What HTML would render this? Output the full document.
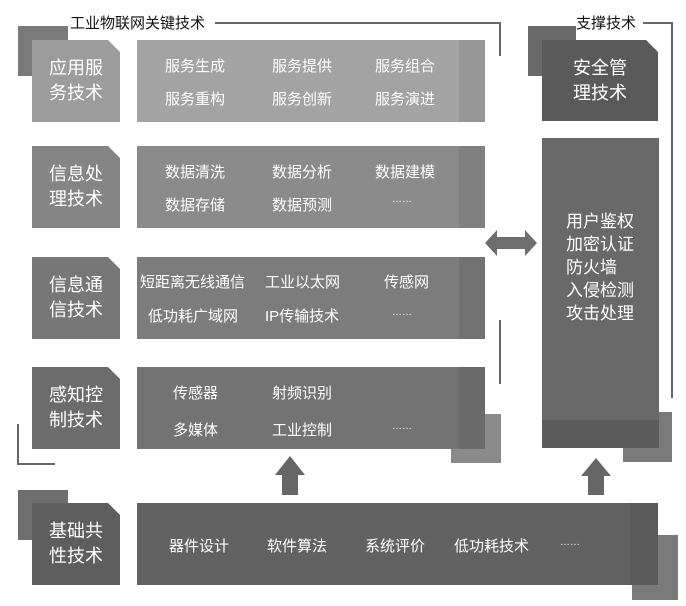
<!DOCTYPE html>
<html><head><meta charset="utf-8"><style>
body{margin:0;width:686px;height:606px;background:#fff;position:relative;overflow:hidden;font-family:"Liberation Sans","Noto Sans CJK SC",sans-serif;}
div{position:absolute;box-sizing:border-box}
.lab{left:32px;width:88px;height:82px;clip-path:polygon(0 0,76px 0,88px 12px,88px 100%,0 100%);color:#fff;font-size:18px;line-height:25px;text-align:center;padding-top:16px}
.con{left:137px;width:348px;height:82px}
.strip{top:0;right:0;width:26px;height:100%;background:rgba(0,0,0,0.08)}
.t{color:#fff;font-size:15px;white-space:nowrap}
.ln{background:#666}
.sq{background:#888}
</style></head><body>
<!-- left bracket -->
<div class="ln" style="left:215px;top:22px;width:286px;height:2px"></div>
<div class="ln" style="left:499px;top:22px;width:2px;height:34px"></div>
<div style="left:70px;top:12px;font-size:15px;color:#111;background:#fff;white-space:nowrap">工业物联网关键技术</div>
<div style="left:18px;top:26px;width:50px;height:50px;background:#7a7a7a"></div>
<div class="ln" style="left:17px;top:424px;width:2px;height:41px"></div>
<div class="ln" style="left:17px;top:463px;width:38px;height:2px"></div>
<div class="ln" style="left:499px;top:320px;width:2px;height:64px"></div>

<!-- row1 -->
<div class="lab" style="top:40px;background:#9c9c9c">应用服<br>务技术</div>
<div class="con" style="top:40px;background:#a3a3a3"><div class="strip"></div></div>
<div class="t" style="left:165px;top:55px">服务生成</div><div class="t" style="left:272px;top:55px">服务提供</div><div class="t" style="left:375px;top:55px">服务组合</div>
<div class="t" style="left:165px;top:88px">服务重构</div><div class="t" style="left:272px;top:88px">服务创新</div><div class="t" style="left:375px;top:88px">服务演进</div>
<!-- row2 -->
<div class="lab" style="top:146px;background:#858585">信息处<br>理技术</div>
<div class="con" style="top:146px;background:#8b8b8b"><div class="strip"></div></div>
<div class="t" style="left:165px;top:161px">数据清洗</div><div class="t" style="left:272px;top:161px">数据分析</div><div class="t" style="left:375px;top:161px">数据建模</div>
<div class="t" style="left:165px;top:194px">数据存储</div><div class="t" style="left:272px;top:194px">数据预测</div><div class="t" style="left:392px;top:194px;font-size:10px">……</div>
<!-- row3 -->
<div class="lab" style="top:257px;background:#777">信息通<br>信技术</div>
<div class="con" style="top:257px;background:#7c7c7c"><div class="strip"></div></div>
<div class="t" style="left:140px;top:271px">短距离无线通信</div><div class="t" style="left:265px;top:271px">工业以太网</div><div class="t" style="left:384px;top:271px">传感网</div>
<div class="t" style="left:148px;top:305px">低功耗广域网</div><div class="t" style="left:265px;top:305px">IP传输技术</div><div class="t" style="left:392px;top:307px;font-size:10px">……</div>
<!-- row4 -->
<div style="left:451px;top:414px;width:50px;height:49px;background:#8a8a8a"></div>
<div class="lab" style="top:367px;background:#6c6c6c">感知控<br>制技术</div>
<div class="con" style="top:367px;background:#737373"><div class="strip"></div></div>
<div class="t" style="left:173px;top:382px">传感器</div><div class="t" style="left:272px;top:382px">射频识别</div>
<div class="t" style="left:173px;top:419px">多媒体</div><div class="t" style="left:272px;top:419px">工业控制</div><div class="t" style="left:392px;top:421px;font-size:10px">……</div>
<!-- base -->
<div style="left:18px;top:490px;width:50px;height:50px;background:#6e6e6e"></div>
<div style="left:632px;top:535px;width:46px;height:65px;background:#7a7a7a"></div>
<div class="lab" style="top:503px;height:82px;background:#5e5e5e">基础共<br>性技术</div>
<div style="left:137px;top:503px;width:521px;height:82px;background:#626262"><div class="strip" style="width:28px"></div></div>
<div class="t" style="left:169px;top:535px">器件设计</div><div class="t" style="left:267px;top:535px">软件算法</div><div class="t" style="left:365px;top:535px">系统评价</div><div class="t" style="left:454px;top:535px">低功耗技术</div><div class="t" style="left:560px;top:537px;font-size:10px">……</div>
<!-- arrows up -->
<svg style="position:absolute;left:0;top:0" width="686" height="606">
<polygon points="290,456 305,475 298,475 298,495 282,495 282,475 275,475" fill="#666"/>
<polygon points="596,458 611,476 604,476 604,495 588,495 588,476 581,476" fill="#666"/>
<polygon points="485,243 497,230 497,237 525,237 525,230 537,243 525,256 525,249 497,249 497,256" fill="#6e6e6e"/>
</svg>
<!-- right bracket -->
<div class="ln" style="left:643px;top:22px;width:30px;height:2px"></div>
<div class="ln" style="left:671px;top:22px;width:2px;height:376px"></div>
<div style="left:576px;top:12px;font-size:15px;color:#111;white-space:nowrap">支撑技术</div>
<div style="left:528px;top:26px;width:48px;height:50px;background:#6a6a6a"></div>
<div style="left:542px;top:40px;width:116px;height:81px;background:#5a5a5a;clip-path:polygon(0 0,104px 0,116px 12px,116px 100%,0 100%);color:#fff;font-size:18px;line-height:25px;text-align:center;padding-top:16px">安全管<br>理技术</div>
<div style="left:623px;top:412px;width:49px;height:50px;background:#7a7a7a"></div>
<div style="left:542px;top:138px;width:117px;height:310px;background:#696969"><div style="left:0;bottom:0;width:100%;height:28px;background:#5c5c5c"></div></div>
<div style="left:566px;top:210px;color:#fff;font-size:17px;line-height:23px">用户鉴权<br>加密认证<br>防火墙<br>入侵检测<br>攻击处理</div>
</body></html>
